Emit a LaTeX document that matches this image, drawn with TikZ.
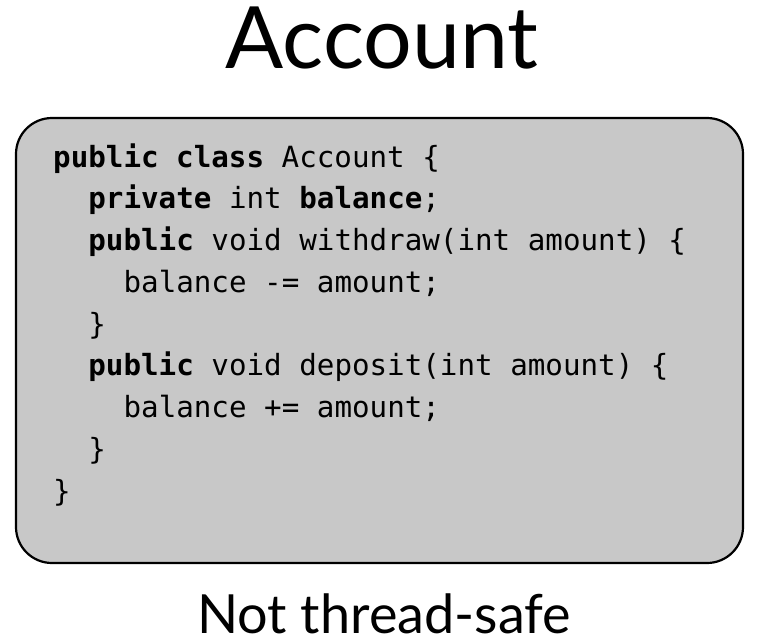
\documentclass[tikz,border=0pt]{standalone}
\usepackage{fontspec}
\usepackage{xcolor}
\setmainfont{Lato}
\setmonofont{DejaVu Sans Mono}
\definecolor{boxgray}{HTML}{C8C8C8}
\newcommand{\kw}[1]{\textbf{#1}}

\begin{document}
\begin{tikzpicture}[x=1pt, y=-1pt,
        code/.style={anchor=base west, inner sep=0pt, font=\ttfamily\fontsize{29.2}{41.75}\selectfont},
        caption/.style={anchor=base, inner sep=0pt}]
                \useasboundingbox (0,0) rectangle (760,640);

                \node[caption, font=\fontsize{86}{90}\selectfont] (T) at (382, 68) {Account};
                \draw[fill=boxgray, line width=2.2pt, rounded corners=36pt] (16,118) rectangle (743,563);

                \node[code] (L1) at (53, 167) {\kw{public class} Account \{};
                \node[code] (L2) at (88.2, 208.75) {\kw{private} int \kw{balance};};
                \node[code] (L3) at (88.2, 250.5) {\kw{public} void withdraw(int amount) \{};
                \node[code] (L4) at (123.4, 292.25) {balance -= amount;};
                \node[code] (L5) at (88.2, 334) {\}};
                \node[code] (L6) at (88.2, 375.75) {\kw{public} void deposit(int amount) \{};
                \node[code] (L7) at (123.4, 417.5) {balance += amount;};
                \node[code] (L8) at (88.2, 459.25) {\}};
                \node[code] (L9) at (53, 501) {\}};

                \node[caption, font=\fontsize{54}{58}\selectfont] (N) at (384, 633) {Not thread-safe};
            \end{tikzpicture}
\end{document}
